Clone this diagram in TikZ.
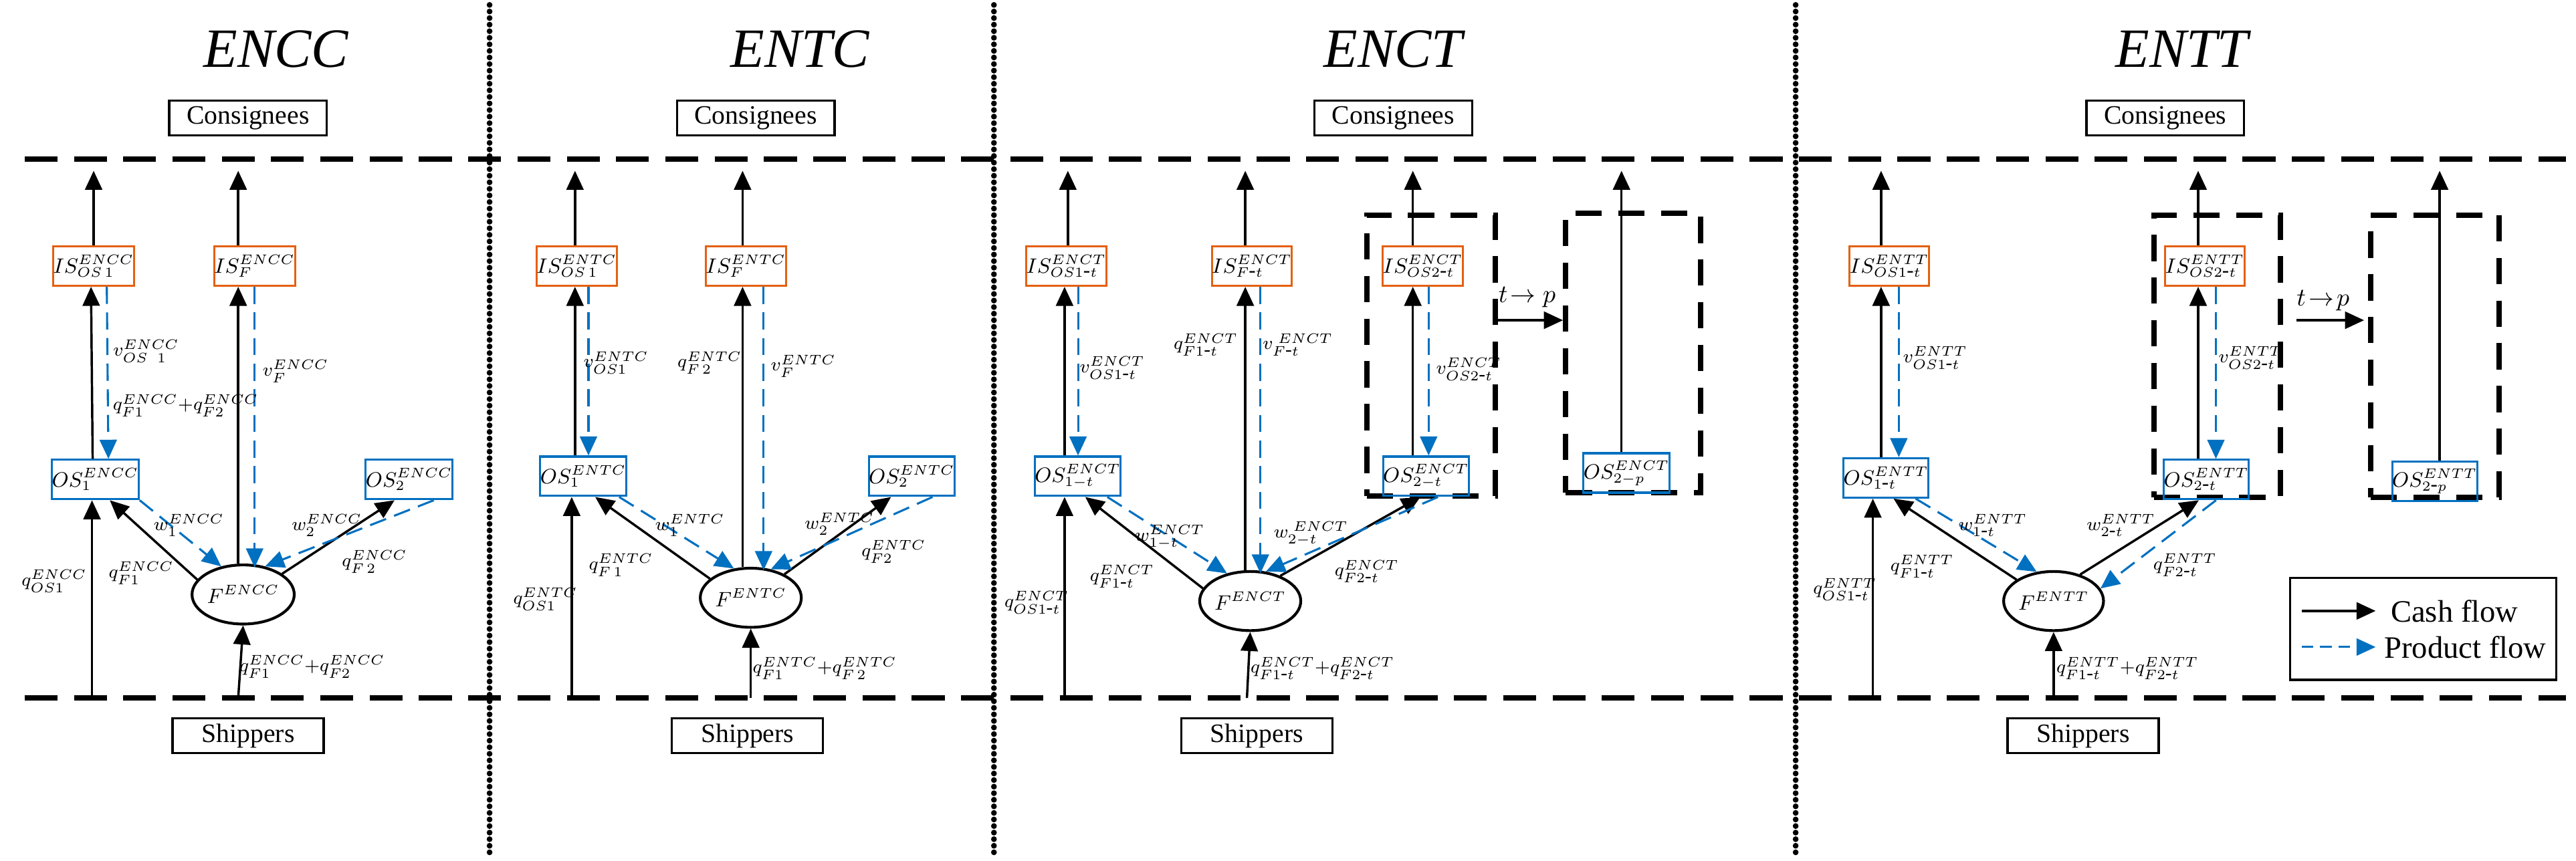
\documentclass[tikz,border=0pt]{standalone}
\usepackage{fontspec}
\setmainfont{Liberation Serif}
\usetikzlibrary{arrows.meta,calc,shapes.geometric}
\definecolor{pblue}{RGB}{0,112,192}
\definecolor{porange}{RGB}{228,96,16}
\newcommand{\hy}{\mbox{-}}
\begin{document}
\begin{tikzpicture}[x=0.25mm,y=-0.25mm,
  cash/.style={line width=1pt,-{Triangle[length=2.9mm,width=2.6mm]}},
  prod/.style={line width=0.9pt,pblue,dash pattern=on 2.6mm off 1.3mm,-{Triangle[length=2.9mm,width=2.6mm]}},
  isb/.style={draw=porange,line width=0.9pt,minimum width=11.5mm,minimum height=6mm,inner sep=0pt,font=\fontsize{9}{10}\selectfont},
  osb/.style={draw=pblue,line width=0.9pt,minimum width=12mm,minimum height=6mm,inner sep=0pt,font=\fontsize{9}{10}\selectfont},
  fell/.style={draw,ellipse,line width=1.2pt,minimum width=15mm,minimum height=9mm,inner sep=0pt,font=\fontsize{9}{10}\selectfont},
  lab/.style={font=\fontsize{8.5}{9}\selectfont,inner sep=0pt},
  ttl/.style={font=\fontsize{24}{26}\selectfont\itshape},
  pbox/.style={draw,line width=0.9pt,minimum width=24mm,minimum height=5.3mm,inner sep=0pt,font=\fontsize{11.5}{12}\selectfont},
  hdash/.style={line width=2.3pt,dash pattern=on 5mm off 2.5mm},
  vdot/.style={line width=2.5pt,dash pattern=on 0pt off 1mm,line cap=round},
  dbox/.style={draw,line width=2.3pt,dash pattern=on 4mm off 2.5mm,inner sep=0pt}]
\useasboundingbox (0,0) rectangle (1568,524);
% frame lines
\coordinate (HL1) at (15,97); \coordinate (HR1) at (1562,97);
\coordinate (HL2) at (15,425); \coordinate (HR2) at (1562,425);
\draw[hdash] (HL1) -- (HR1);
\draw[hdash] (HL2) -- (HR2);
\foreach \xx/\nm in {298/S1,605/S2,1093/S3}{
  \coordinate (\nm t) at (\xx,3); \coordinate (\nm b) at (\xx,522);
  \draw[vdot] (\nm t) -- (\nm b);}
% titles and boxes
\node[ttl] (t1) at (168,30) {ENCC};
\node[ttl] (t2) at (487,30) {ENTC};
\node[ttl] (t3) at (848,30) {ENCT};
\node[ttl] (t4) at (1328,30) {ENTT};
\node[pbox] (c1) at (151,72) {Consignees};
\node[pbox] (c2) at (460,72) {Consignees};
\node[pbox] (c3) at (848,72) {Consignees};
\node[pbox] (c4) at (1318,72) {Consignees};
\node[pbox,minimum width=23mm] (s1) at (151,448) {Shippers};
\node[pbox,minimum width=23mm] (s2) at (455,448) {Shippers};
\node[pbox,minimum width=23mm] (s3) at (765,448) {Shippers};
\node[pbox,minimum width=23mm] (s4) at (1268,448) {Shippers};

% ===== Panel 1 ENCC =====
\node[isb] (aISa) at (57,162) {$IS^{ENCC}_{OS\,1}$};
\node[isb] (aISb) at (155,162) {$IS^{ENCC}_{F}$};
\node[osb] (aOS1) at (58,292) {$OS^{ENCC}_1$};
\node[osb] (aOS2) at (249,292) {$OS^{ENCC}_2$};
\node[fell] (aF) at (148,362) {$F^{ENCC}$};
\coordinate (aTa) at (57,104); \coordinate (aTb) at (145,104);
\coordinate (aB1) at (56,425); \coordinate (aB2) at (145,425);
\draw[cash] (aISa.north) -- (aTa);
\draw[cash] (aISb.north -| aTb) -- (aTb);
\draw[cash] ([xshift=-0.4mm]aOS1.north) -- ([xshift=-0.4mm]aISa.south);
\draw[prod] ([xshift=2mm]aISa.south) -- ([xshift=2mm]aOS1.north);
\draw[cash] (aF.north -| aTb) -- (aISb.south -| aTb);
\draw[prod] ([xshift=2.5mm]aISb.south -| aTb) -- ([xshift=2.5mm,yshift=-0.6mm]aF.north -| aTb);
\draw[cash] (aF.162) -- (aOS1.-55);
\draw[prod] (aOS1.-25) -- (aF.128);
\draw[cash] (aF.28) -- (aOS2.-125);
\draw[prod] (aOS2.-40) -- (aF.52);
\draw[cash] (aB1) -- (aB1 |- aOS1.south);
\draw[cash] (aB2) -- (aF.south);
\node[lab] (aL1) at (89,214) {$v^{ENCC}_{OS\;\;1}$};
\node[lab] (aL2) at (113,247) {$q^{ENCC}_{F1}{+}q^{ENCC}_{F2}$};
\node[lab] (aL3) at (180,226) {$v^{ENCC}_{F}$};
\node[lab] (aL4) at (115,320) {$w^{ENCC}_{1}$};
\node[lab] (aL5) at (86,349) {$q^{ENCC}_{F1}$};
\node[lab] (aL6) at (33,354) {$q^{ENCC}_{OS1}$};
\node[lab] (aL7) at (199,320) {$w^{ENCC}_{2}$};
\node[lab] (aL8) at (228,342) {$q^{ENCC}_{F\,2}$};
\node[lab] (aL9) at (190,406) {$q^{ENCC}_{F1}{+}q^{ENCC}_{F2}$};

% ===== Panel 2 ENTC =====
\node[isb] (bISa) at (351,162) {$IS^{ENTC}_{OS\,1}$};
\node[isb] (bISb) at (454,162) {$IS^{ENTC}_{F}$};
\node[osb] (bOS1) at (355,290) {$OS^{ENTC}_1$};
\node[osb] (bOS2) at (555,290) {$OS^{ENTC}_2$};
\node[fell] (bF) at (457,364) {$F^{ENTC}$};
\coordinate (bTa) at (350,104); \coordinate (bTb) at (452,104);
\coordinate (bB1) at (348,425); \coordinate (bB2) at (457,425);
\draw[cash] (bISa.north -| bTa) -- (bTa);
\draw[cash] (bISb.north -| bTb) -- (bTb);
\draw[cash] (bOS1.north -| bTa) -- (bISa.south -| bTa);
\draw[prod] ([xshift=1.8mm]bISa.south) -- ([xshift=1.8mm]bOS1.north -| bISa.south);
\draw[cash] (bF.north -| bTb) -- (bISb.south -| bTb);
\draw[prod] ([xshift=3.2mm]bISb.south -| bTb) -- ([xshift=3.2mm,yshift=-0.5mm]bF.north -| bTb);
\draw[cash] (bF.155) -- (bOS1.-60);
\draw[prod] (bOS1.-30) -- (bF.120);
\draw[cash] (bF.35) -- (bOS2.-135);
\draw[prod] (bOS2.-45) -- (bF.55);
\draw[cash] (bB1) -- (bB1 |- bOS1.south);
\draw[cash] (bB2) -- (bF.south);
\node[lab] (bL1) at (375,221) {$v^{ENTC}_{OS1}$};
\node[lab] (bL2) at (432,221) {$q^{ENTC}_{F\,2}$};
\node[lab] (bL3) at (489,223) {$v^{ENTC}_{F}$};
\node[lab] (bL4) at (420,320) {$w^{ENTC}_{1}$};
\node[lab] (bL5) at (378,344) {$q^{ENTC}_{F\,1}$};
\node[lab] (bL6) at (332,365) {$q^{ENTC}_{OS1}$};
\node[lab] (bL7) at (511,319) {$w^{ENTC}_{2}$};
\node[lab] (bL8) at (544,336) {$q^{ENTC}_{F2}$};
\node[lab] (bL9) at (502,407) {$q^{ENTC}_{F1}{+}q^{ENTC}_{F\,2}$};

% ===== Panel 3 ENCT =====
\node[dbox,minimum width=19.5mm,minimum height=42.75mm] (cBx1) at (871,216.5) {};
\node[dbox,minimum width=20.5mm,minimum height=42.5mm] (cBx2) at (994,215) {};
\node[isb] (cISa) at (649,162) {$IS^{ENCT}_{OS1\hy t}$};
\node[isb] (cISb) at (762,162) {$IS^{ENCT}_{F\hy t}$};
\node[isb] (cISc) at (866,162) {$IS^{ENCT}_{OS2\hy t}$};
\node[osb] (cOS1) at (656,290) {$OS^{ENCT}_{1-t}$};
\node[osb] (cOS2) at (868,290) {$OS^{ENCT}_{2-t}$};
\node[osb] (cOS3) at (990,288) {$OS^{ENCT}_{2-p}$};
\node[fell] (cF) at (761,366) {$F^{ENCT}$};
\coordinate (cTa) at (650,104); \coordinate (cTb) at (758,104);
\coordinate (cTc) at (860,104); \coordinate (cTd) at (987,104);
\coordinate (cB1) at (648,425); \coordinate (cB2) at (759,425);
\draw[cash] (cISa.north -| cTa) -- (cTa);
\draw[cash] (cISb.north -| cTb) -- (cTb);
\draw[cash] (cISc.north -| cTc) -- (cTc);
\draw[cash] (cOS3.north -| cTd) -- (cTd);
\draw[cash] (cOS1.north -| cB1) -- (cISa.south -| cB1);
\draw[prod] ([xshift=1.8mm]cISa.south) -- ([xshift=1.8mm]cOS1.north -| cISa.south);
\draw[cash] (cF.north -| cTb) -- (cISb.south -| cTb);
\draw[prod] ([xshift=2.3mm]cISb.south -| cTb) -- ([xshift=2.3mm,yshift=-0.5mm]cF.north -| cTb);
\draw[cash] (cOS2.north -| cTc) -- (cISc.south -| cTc);
\draw[prod] ([xshift=2.4mm]cISc.south -| cTc) -- ([xshift=2.4mm]cOS2.north -| cTc);
\draw[cash] (cF.165) -- (cOS1.-70);
\draw[prod] (cOS1.-35) -- (cF.130);
\draw[cash] (cF.40) -- (cOS2.-105);
\draw[prod] (cOS2.-60) -- (cF.62);
\draw[cash] (cB1) -- (cB1 |- cOS1.south);
\draw[cash] (cB2) -- (cF.south);
\draw[cash] ($(cBx1.east)+(0,-21.5)$) -- ($(cBx2.west)+(0,-20)$) node[lab,pos=0.45,above=5pt,font=\fontsize{10.5}{11}\selectfont] (cTP) {$t\!\rightarrow p$};
\node[lab] (cL1) at (677,224) {$v^{ENCT}_{OS1\hy t}$};
\node[lab] (cL2) at (734,210) {$q^{ENCT}_{F1\hy t}$};
\node[lab] (cL3) at (790,210) {$v^{\;ENCT}_{F\hy t}$};
\node[lab] (cL4) at (894,225) {$v^{ENCT}_{OS2\hy t}$};
\node[lab] (cL5) at (712,327) {$w^{ENCT}_{1-t}$};
\node[lab] (cL6) at (683,351) {$q^{ENCT}_{F1\hy t}$};
\node[lab] (cL7) at (631,367) {$q^{ENCT}_{OS1\hy t}$};
\node[lab] (cL8) at (798,325) {$w^{\;ENCT}_{2-t}$};
\node[lab] (cL9) at (832,348) {$q^{ENCT}_{F2\hy t}$};
\node[lab] (cL10) at (805,407) {$q^{ENCT}_{F1\hy t}{+}q^{ENCT}_{F2\hy t}$};

% ===== Panel 4 ENTT =====
\node[dbox,minimum width=19.25mm,minimum height=43mm] (dBx1) at (1349.5,217) {};
\node[dbox,minimum width=19.5mm,minimum height=43mm] (dBx2) at (1482,217) {};
\node[isb] (dISa) at (1150,162) {$IS^{ENTT}_{OS1\hy t}$};
\node[isb] (dISc) at (1342,162) {$IS^{ENTT}_{OS2\hy t}$};
\node[osb] (dOS1) at (1148,291) {$OS^{ENTT}_{1\hy t}$};
\node[osb] (dOS2) at (1343,292) {$OS^{ENTT}_{2\hy t}$};
\node[osb] (dOS3) at (1482,293) {$OS^{ENTT}_{2\hy p}$};
\node[fell] (dF) at (1250,366) {$F^{ENTT}$};
\coordinate (dTa) at (1145,104); \coordinate (dTc) at (1338,104); \coordinate (dTd) at (1485,104);
\coordinate (dB1) at (1140,425); \coordinate (dB2) at (1250,425);
\draw[cash] (dISa.north -| dTa) -- (dTa);
\draw[cash] (dISc.north -| dTc) -- (dTc);
\draw[cash] (dOS3.north -| dTd) -- (dTd);
\draw[cash] (dOS1.north -| dTa) -- (dISa.south -| dTa);
\draw[prod] ([xshift=2.7mm]dISa.south -| dTa) -- ([xshift=2.7mm]dOS1.north -| dTa);
\draw[cash] (dOS2.north -| dTc) -- (dISc.south -| dTc);
\draw[prod] ([xshift=2.7mm]dISc.south -| dTc) -- ([xshift=2.7mm]dOS2.north -| dTc);
\draw[cash] (dF.150) -- (dOS1.-70);
\draw[prod] (dOS1.-35) -- (dF.120);
\draw[cash] (dF.45) -- (dOS2.-110);
\draw[prod] (dOS2.-65) -- (dF.15);
\draw[cash] (dB1) -- (dB1 |- dOS1.south);
\draw[cash] (dB2) -- (dF.south);
\coordinate (dA1) at (1398,195); \coordinate (dA2) at (1439,195);
\draw[cash] (dA1) -- (dA2);
\node[lab,font=\fontsize{10.5}{11}\selectfont] (dTP) at (1414,183) {$t\!\rightarrow\! p$};
\node[lab] (dL1) at (1178,218) {$v^{ENTT}_{OS1\hy t}$};
\node[lab] (dL2) at (1370,218) {$v^{ENTT}_{OS2\hy t}$};
\node[lab] (dL3) at (1213,320) {$w^{ENTT}_{1\hy t}$};
\node[lab] (dL4) at (1170,345) {$q^{ENTT}_{F1\hy t}$};
\node[lab] (dL5) at (1123,359) {$q^{ENTT}_{OS1\hy t}$};
\node[lab] (dL6) at (1291,320) {$w^{ENTT}_{2\hy t}$};
\node[lab] (dL7) at (1330,344) {$q^{ENTT}_{F2\hy t}$};
\node[lab] (dL8) at (1295,407) {$q^{ENTT}_{F1\hy t}{+}q^{ENTT}_{F2\hy t}$};

% legend
\node[draw,line width=1pt,minimum width=40.5mm,minimum height=15.5mm,inner sep=0pt] (lg) at (1475,383) {};
\coordinate (lg1a) at (1401,372); \coordinate (lg1b) at (1446,372);
\coordinate (lg2a) at (1401,394); \coordinate (lg2b) at (1446,394);
\draw[cash] (lg1a) -- (lg1b);
\draw[prod,dash pattern=on 1.8mm off 1mm] (lg2a) -- (lg2b);
\node[anchor=west,font=\fontsize{13.5}{14}\selectfont,inner sep=0pt] (lgt1) at (1455,372) {Cash flow};
\node[anchor=west,font=\fontsize{13.5}{14}\selectfont,inner sep=0pt] (lgt2) at (1451,394) {Product flow};
\end{tikzpicture}
\end{document}
